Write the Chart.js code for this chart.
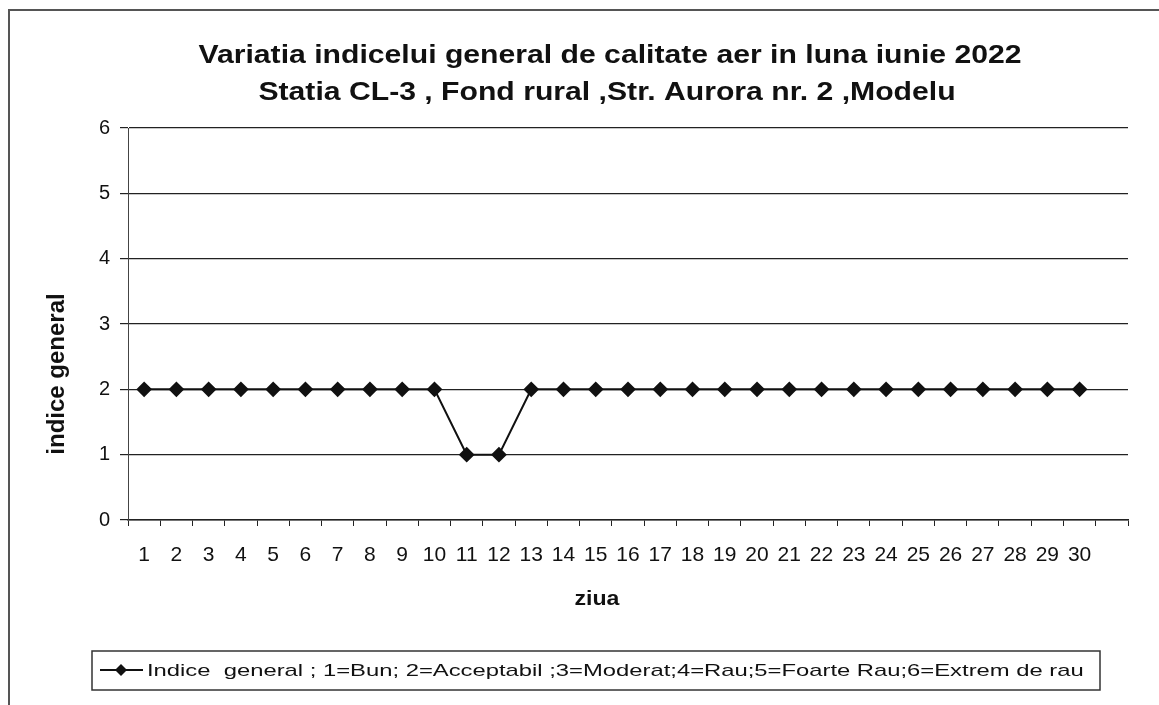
<!DOCTYPE html>
<html>
<head>
<meta charset="utf-8">
<script src="https://cdn.jsdelivr.net/npm/chart.js@4"></script>
<style>
  html, body { margin: 0; padding: 0; background: #fff; }
  #wrap { width: 1159px; height: 705px; position: relative; }
</style>
</head>
<body>
<div id="wrap"><canvas id="chart" width="1159" height="705"></canvas></div>
<script>
// zilele lunii (ultima categorie goala, ca in grafic)
const zile = ['1','2','3','4','5','6','7','8','9','10','11','12','13','14','15','16','17','18','19','20','21','22','23','24','25','26','27','28','29','30',''];
const indice = [2,2,2,2,2,2,2,2,2,2,1,1,2,2,2,2,2,2,2,2,2,2,2,2,2,2,2,2,2,2,null];
const titlu = ['Variatia indicelui general de calitate aer in luna iunie 2022', 'Statia CL-3 , Fond rural ,Str. Aurora nr. 2 ,Modelu'];
const legenda = 'Indice  general ; 1=Bun; 2=Acceptabil ;3=Moderat;4=Rau;5=Foarte Rau;6=Extrem de rau';
const titluX = 'ziua';
const titluY = 'indice general';

const FONT = '"Liberation Sans", Arial, sans-serif';

// text putin latit pe orizontala (ca in scanare)
function wideText(ctx, txt, x, y, sx) {
  ctx.save();
  ctx.translate(x, y);
  ctx.scale(sx, 1);
  ctx.fillText(txt, 0, 0);
  ctx.restore();
}

// rama, titluri, legenda in caseta
const framePlugin = {
  id: 'frame',
  beforeDraw(chart) {
    const ctx = chart.ctx;
    ctx.save();
    ctx.strokeStyle = '#555';
    ctx.lineWidth = 2;
    ctx.strokeRect(9, 10, 1170, 800);
    ctx.restore();
  },
  afterDraw(chart) {
    const ctx = chart.ctx;
    ctx.save();
    ctx.fillStyle = '#111';
    ctx.textAlign = 'center';
    ctx.textBaseline = 'middle';
    ctx.font = 'bold 26px ' + FONT;
    wideText(ctx, titlu[0], 610, 56, 1.16);
    wideText(ctx, titlu[1], 607, 93, 1.16);

    ctx.font = 'bold 21px ' + FONT;
    wideText(ctx, titluX, 597, 599, 1.1);

    ctx.save();
    ctx.translate(57, 374);
    ctx.rotate(-Math.PI / 2);
    ctx.font = 'bold 24px ' + FONT;
    ctx.fillText(titluY, 0, 0);
    ctx.restore();

    // legenda
    ctx.strokeStyle = '#333';
    ctx.lineWidth = 1.5;
    ctx.strokeRect(92, 651, 1008, 39);
    const y = 670;
    ctx.strokeStyle = '#111';
    ctx.lineWidth = 2;
    ctx.beginPath(); ctx.moveTo(100, y); ctx.lineTo(143, y); ctx.stroke();
    ctx.beginPath();
    ctx.moveTo(121, y - 6); ctx.lineTo(127, y); ctx.lineTo(121, y + 6); ctx.lineTo(115, y);
    ctx.closePath(); ctx.fill();
    ctx.font = '17px ' + FONT;
    ctx.textAlign = 'left';
    wideText(ctx, chart.data.datasets[0].label, 147, y + 1, 1.4);
    ctx.restore();
  }
};

new Chart(document.getElementById('chart'), {
  type: 'line',
  data: {
    labels: zile,
    datasets: [{
      label: legenda,
      data: indice,
      borderColor: '#111',
      backgroundColor: '#111',
      borderWidth: 2,
      pointStyle: 'rectRot',
      pointRadius: 6.5,
      pointHoverRadius: 6.5,
      tension: 0
    }]
  },
  options: {
    responsive: false,
    animation: false,
    layout: { padding: { left: 47, right: 31, top: 128, bottom: 96 } },
    plugins: {
      legend: { display: false },
      tooltip: { enabled: false },
      title: { display: false }
    },
    scales: {
      x: {
        offset: true,
        grid: { display: true, drawOnChartArea: false, tickLength: 6, color: '#222', offset: true },
        border: { display: true, color: '#222', width: 1.5 },
        ticks: { autoSkip: false, maxRotation: 0, padding: 17, color: '#111', font: { family: FONT, size: 21 } },
        afterFit(s) { s.height = 89; }
      },
      y: {
        min: 0,
        max: 6,
        ticks: { stepSize: 1, padding: 10, color: '#111', font: { family: FONT, size: 20 } },
        grid: { color: '#222', lineWidth: 1.2, tickLength: 8 },
        border: { display: true, color: '#444', width: 1 },
        afterFit(s) { s.width = 81; }
      }
    }
  },
  plugins: [framePlugin]
});
</script>
</body>
</html>
